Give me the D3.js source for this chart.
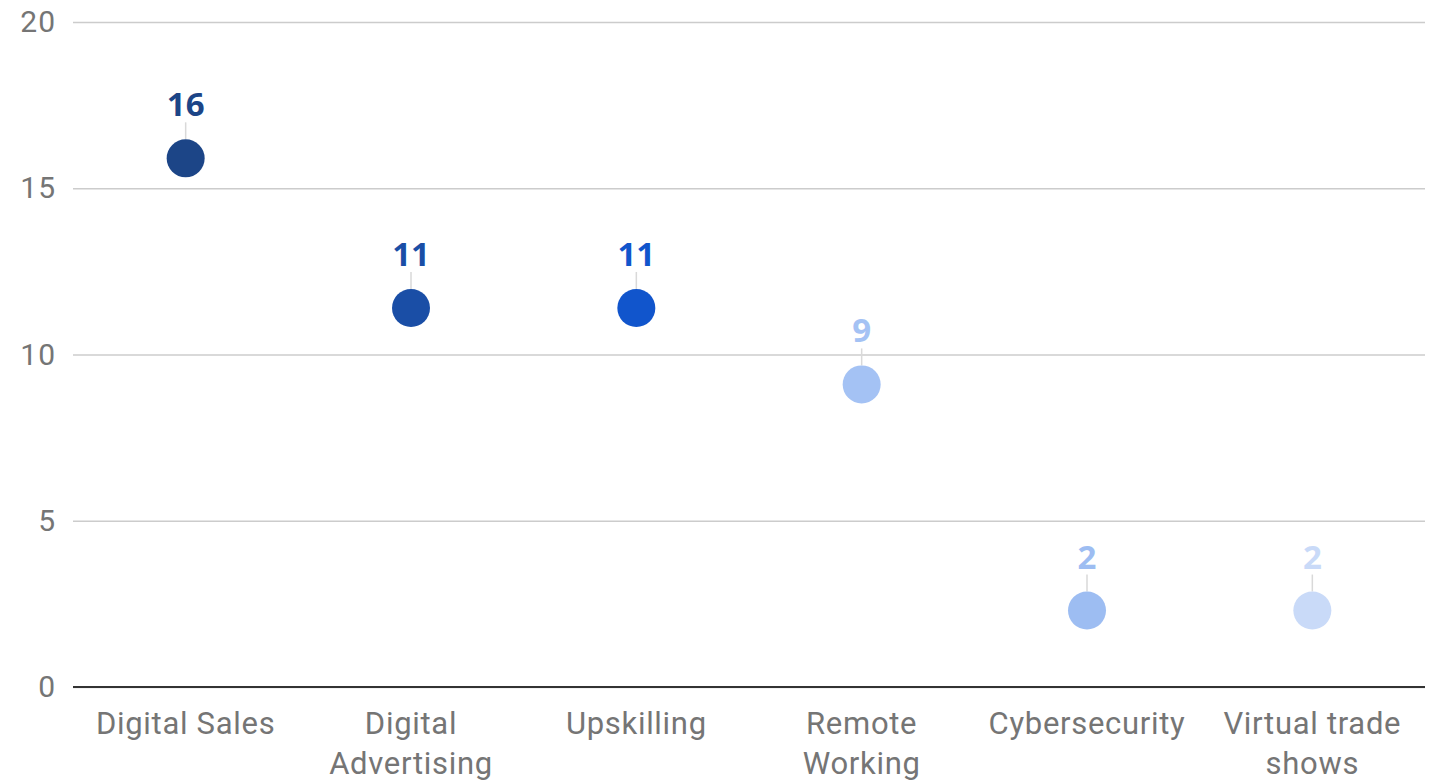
<!DOCTYPE html>
<html>
<head>
<meta charset="utf-8">
<script src="https://cdn.jsdelivr.net/npm/d3@7/dist/d3.min.js"></script>
<style>
  html, body { margin: 0; padding: 0; background: #fff; }
  svg { display: block; }
</style>
</head>
<body>
<svg id="chart" width="1433" height="783"></svg>
<script>
// Categories, values and styling inputs
const categories = ["Digital Sales", "Digital Advertising", "Upskilling", "Remote Working", "Cybersecurity", "Virtual trade shows"];
const categoryLines = [["Digital Sales"], ["Digital", "Advertising"], ["Upskilling"], ["Remote", "Working"], ["Cybersecurity"], ["Virtual trade", "shows"]];
const values = [15.9, 11.4, 11.4, 9.1, 2.3, 2.3];
const pointColors = ["#1c4587", "#1a4ea6", "#1155cc", "#a4c2f4", "#9dbdf2", "#c9daf8"];
const yTicks = [0, 5, 10, 15, 20];

const W = 1433, H = 783;
const margin = { top: 22, right: 8, bottom: 96, left: 73 };

const svg = d3.select("#chart");

const x = d3.scaleBand()
  .domain(categories)
  .range([margin.left, W - margin.right])
  .padding(0);

const y = d3.scaleLinear()
  .domain([0, 20])
  .range([H - margin.bottom, margin.top]);

// Horizontal gridlines and y tick labels
const yAxis = d3.axisLeft(y)
  .tickValues(yTicks)
  .tickSize(-(W - margin.right - margin.left))
  .tickPadding(17)
  .tickFormat(d3.format("d"));

const gy = svg.append("g")
  .attr("transform", `translate(${margin.left},0)`)
  .call(yAxis);
gy.select(".domain").remove();
gy.selectAll(".tick line")
  .attr("stroke", "#cccccc")
  .attr("stroke-width", 1.5);
gy.selectAll(".tick text")
  .attr("fill", "#757575")
  .style("font-family", "Roboto, sans-serif")
  .style("font-size", "30px")
  .style("letter-spacing", "1px");

// Baseline
svg.append("line")
  .attr("x1", margin.left)
  .attr("x2", W - margin.right)
  .attr("y1", y(0))
  .attr("y2", y(0))
  .attr("stroke", "#333333")
  .attr("stroke-width", 2);

// Category labels (wrapped)
const gx = svg.append("g");
categories.forEach((c, i) => {
  const t = gx.append("text")
    .attr("x", x(c) + x.bandwidth() / 2)
    .attr("y", y(0) + 47)
    .attr("text-anchor", "middle")
    .attr("fill", "#757575")
    .style("font-family", "Roboto, sans-serif")
    .style("font-size", "31px")
    .style("letter-spacing", "0.7px");
  categoryLines[i].forEach((line, j) => {
    t.append("tspan")
      .attr("x", x(c) + x.bandwidth() / 2)
      .attr("dy", j === 0 ? 0 : 40)
      .text(line);
  });
});

const data = categories.map((c, i) => ({ c, v: values[i], color: pointColors[i] }));
const cx = d => x(d.c) + x.bandwidth() / 2;
const fmt = d3.format(".0f");

// Leader lines from label to point
svg.append("g").selectAll("line")
  .data(data)
  .join("line")
  .attr("x1", cx)
  .attr("x2", cx)
  .attr("y1", d => y(d.v) - 36)
  .attr("y2", d => y(d.v) - 19)
  .attr("stroke", "#d9d9d9")
  .attr("stroke-width", 1.5);

// Points
svg.append("g").selectAll("circle")
  .data(data)
  .join("circle")
  .attr("cx", cx)
  .attr("cy", d => y(d.v))
  .attr("r", 19)
  .attr("fill", d => d.color);

// Value labels
svg.append("g").selectAll("text")
  .data(data)
  .join("text")
  .attr("x", cx)
  .attr("y", d => y(d.v) - 42)
  .attr("text-anchor", "middle")
  .attr("fill", d => d.color)
  .style("font-family", "'Open Sans', sans-serif")
  .style("font-weight", "700")
  .style("font-size", "33px")
  .text(d => fmt(d.v));
</script>
</body>
</html>
